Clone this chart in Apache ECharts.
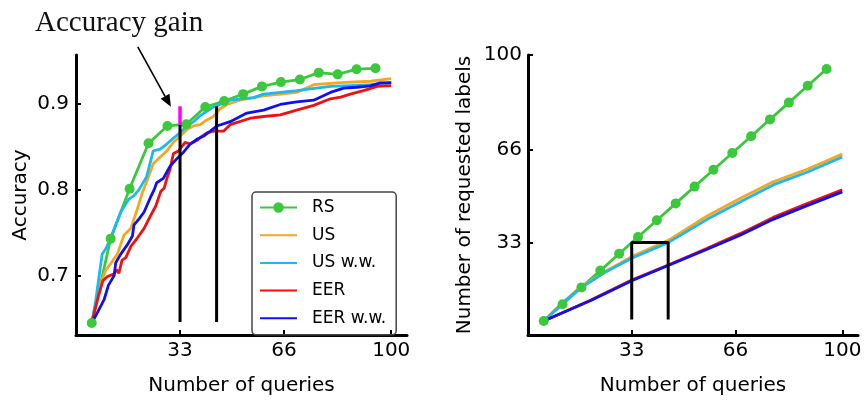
<!DOCTYPE html>
<html>
<head>
<meta charset="utf-8">
<script src="https://cdn.jsdelivr.net/npm/echarts@6/dist/echarts.min.js"></script>
<style>html,body{margin:0;padding:0;background:#fff;}#c{width:865px;height:401px;}</style>
</head>
<body>
<div id="c"></div>
<script>
// ---- data ----
const seriesNames = ['RS', 'US', 'US w.w.', 'EER', 'EER w.w.'];
const xTicks = [33, 66, 100];
const accTicks = [0.7, 0.8, 0.9];
const labelTicks = [33, 66, 100];

// Left: accuracy vs number of queries
const rsQueries = [5, 11, 17, 23, 29, 35, 41, 47, 53, 59, 65, 71, 77, 83, 89, 95];
const rsAcc = [0.645, 0.743, 0.801, 0.854, 0.874, 0.876, 0.896, 0.903, 0.911, 0.920, 0.925, 0.928, 0.936, 0.934, 0.940, 0.941];
const usAcc = [[5,0.645],[7.8,0.691],[9.4,0.706],[11,0.714],[13.1,0.725],[15.2,0.747],[17.4,0.755],[19.5,0.778],[21,0.796],[22.5,0.81],[24.5,0.830],[26.7,0.838],[28.8,0.845],[30.9,0.855],[33,0.862],[35.2,0.870],[37.3,0.874],[39.4,0.8755],[41.5,0.881],[43.6,0.885],[45.7,0.894],[47.9,0.899],[52,0.904],[59.5,0.909],[64.8,0.911],[70,0.913],[75.4,0.922],[84,0.9245],[93.4,0.926],[100,0.929]];
const usWwAcc = [[5,0.645],[6.3,0.672],[8.3,0.725],[9.4,0.731],[11,0.744],[14.2,0.774],[16.8,0.789],[18.4,0.793],[20,0.80],[22.4,0.815],[24.5,0.845],[26.7,0.847],[28.8,0.853],[30.9,0.860],[33,0.866],[35.2,0.874],[37.3,0.879],[39.4,0.886],[41.5,0.891],[43.6,0.896],[45.7,0.899],[48.9,0.904],[56.3,0.907],[59.5,0.911],[70,0.915],[80.7,0.920],[87,0.921],[93.4,0.922],[100,0.924]];
const eerAcc = [[5,0.645],[7.1,0.676],[8.5,0.694],[10,0.699],[12.1,0.702],[12.8,0.707],[13.6,0.703],[14.6,0.718],[15.8,0.721],[17.4,0.734],[19.5,0.744],[21.6,0.755],[23.7,0.770],[25.3,0.781],[26.9,0.798],[28,0.802],[29,0.815],[29.8,0.823],[30.9,0.842],[32.5,0.845],[34.6,0.855],[36.2,0.853],[38.3,0.857],[39.9,0.862],[41.5,0.866],[43.6,0.868],[44.1,0.866],[46.8,0.868],[48.9,0.8755],[55.3,0.883],[59.5,0.885],[64.8,0.887],[70,0.8925],[75.4,0.898],[80.7,0.9056],[84,0.9075],[87,0.911],[91.2,0.915],[95.5,0.920],[100,0.921]];
const eerWwAcc = [[5,0.645],[6.8,0.657],[8.9,0.672],[10.3,0.689],[12.1,0.700],[12.6,0.715],[14.2,0.725],[16.3,0.736],[17.9,0.746],[18.4,0.759],[20,0.766],[21.6,0.774],[23.5,0.790],[24.8,0.800],[25.6,0.808],[27.7,0.813],[29.8,0.827],[32,0.836],[34.1,0.8435],[36.2,0.853],[38.3,0.8585],[40.4,0.862],[42.6,0.868],[44.7,0.874],[48.9,0.879],[54.2,0.889],[59.5,0.8925],[64.8,0.899],[70,0.902],[75.4,0.904],[80.7,0.913],[84.9,0.918],[89.1,0.919],[93.4,0.9207],[96.5,0.924],[100,0.9245]];

// Right: number of requested labels vs number of queries
const rsLabels = [5, 11, 17, 23, 29, 35, 41, 47, 53, 59, 65, 71, 77, 83, 89, 95];
const usLabels = [[5,5],[10,10.5],[16,16.5],[25,23],[33,28],[45,34],[57,42.5],[67,48.5],[78,54.7],[89,59.3],[100,64.6]];
const usWwLabels = [[5,5],[10,10.3],[16,16.2],[25,22.7],[33,27.4],[44.6,33],[57,41.3],[67,47.2],[78,53.6],[89,58.2],[100,63.6]];
const eerLabels = [[5,5],[20,12.5],[33,19.6],[45,25.2],[57,31],[67.5,36.2],[78,42],[89,47],[100,51.9]];
const eerWwLabels = [[5,5],[20,12.3],[33,19.4],[45,25],[57,30.6],[67.5,35.6],[78,41.3],[89,46.3],[100,51.1]];

// Annotations
const gainQueries = [33, 44.6];
const gainAccBase = 0.646;
const gainAccLow = 0.8755;
const gainAccHigh = 0.897;
const labelBase = 5.5;
const labelLevel = 33;
const arrowFrom = [19.6, 0.966];
const arrowTo = [30.1, 0.8963];

// ---- chart ----
const colors = {RS:'#3cc83c', US:'#f5a623', 'US w.w.':'#1cb8f0', EER:'#f01010', 'EER w.w.':'#1010ee'};
const font = 'DejaVu Sans';

function axisX(gi) {
  return {
    gridIndex: gi, type: 'value', min: 0, max: 105,
    name: 'Number of queries', nameLocation: 'middle', nameGap: 41,
    nameTextStyle: {fontSize: 20, color: '#000', fontFamily: font},
    axisLine: {lineStyle: {color: '#000', width: 3}},
    axisTick: {inside: true, length: 5, lineStyle: {color: '#000', width: 2}, customValues: xTicks},
    axisLabel: {customValues: xTicks, fontSize: 20, color: '#000', fontFamily: font, margin: 6},
    splitLine: {show: false}
  };
}

const pairs = (xs, ys) => xs.map((x, i) => [x, ys[i]]);
function lineSeries(name, data, gi, extra) {
  return Object.assign({
    name, type: 'line', xAxisIndex: gi, yAxisIndex: gi, data,
    symbol: 'none', lineStyle: {width: 2.8, color: colors[name]}, itemStyle: {color: colors[name]},
    animation: false, z: 3
  }, extra || {});
}
const rsExtra = {symbol: 'circle', symbolSize: 10, showSymbol: true};

const legendData = seriesNames.map(n => n === 'RS'
  ? {name: n}
  : {name: n, itemStyle: {color: 'rgba(0,0,0,0)', borderWidth: 0}});

const option = {
  backgroundColor: '#fff',
  animation: false,
  title: {
    text: 'Accuracy gain', left: 30, top: 4,
    textStyle: {fontFamily: 'Liberation Serif', fontWeight: 'normal', fontSize: 29, color: '#111'}
  },
  legend: {
    data: legendData, orient: 'vertical', left: 252, top: 192,
    padding: [7, 10, 8, 7], itemWidth: 37, itemHeight: 13, itemGap: 10.7,
    borderColor: '#444', borderWidth: 1.5, borderRadius: 4,
    textStyle: {fontSize: 17, color: '#000', fontFamily: font, lineHeight: 17, padding: [0, 0, 0, 10]}
  },
  grid: [
    {left: 76, top: 55, width: 331, height: 288},
    {left: 528, top: 55, width: 330, height: 290}
  ],
  xAxis: [axisX(0), axisX(1)],
  yAxis: [
    {
      gridIndex: 0, type: 'value', min: 0.631, max: 0.9565,
      name: 'Accuracy', nameLocation: 'middle', nameGap: 45,
      nameTextStyle: {fontSize: 20, color: '#000', fontFamily: font},
      axisLine: {show: true, lineStyle: {color: '#000', width: 3}},
      axisTick: {show: true, inside: true, length: 5, lineStyle: {color: '#000', width: 2}, customValues: accTicks},
      axisLabel: {customValues: accTicks, fontSize: 20, color: '#000', fontFamily: font, margin: 7, formatter: v => v.toFixed(1)},
      splitLine: {show: false}
    },
    {
      gridIndex: 1, type: 'value', min: 0, max: 100,
      name: 'Number of requested labels', nameLocation: 'middle', nameGap: 53,
      nameTextStyle: {fontSize: 20, color: '#000', fontFamily: font},
      axisLine: {show: true, lineStyle: {color: '#000', width: 3}},
      axisTick: {show: true, inside: true, length: 5, lineStyle: {color: '#000', width: 2}, customValues: labelTicks},
      axisLabel: {customValues: labelTicks, fontSize: 20, color: '#000', fontFamily: font, margin: 6},
      splitLine: {show: false}
    }
  ],
  series: [
    lineSeries('RS', pairs(rsQueries, rsAcc), 0, rsExtra),
    lineSeries('US', usAcc, 0),
    lineSeries('US w.w.', usWwAcc, 0),
    lineSeries('EER', eerAcc, 0),
    lineSeries('EER w.w.', eerWwAcc, 0),
    lineSeries('RS', pairs(rsQueries, rsLabels), 1, rsExtra),
    lineSeries('US', usLabels, 1),
    lineSeries('US w.w.', usWwLabels, 1),
    lineSeries('EER', eerLabels, 1),
    lineSeries('EER w.w.', eerWwLabels, 1),
    {type: 'line', xAxisIndex: 0, yAxisIndex: 0, symbol: 'none', z: 5, animation: false, silent: true,
     lineStyle: {color: '#000', width: 3}, data: [[gainQueries[0], gainAccBase], [gainQueries[0], gainAccLow]]},
    {type: 'line', xAxisIndex: 0, yAxisIndex: 0, symbol: 'none', z: 5, animation: false, silent: true,
     lineStyle: {color: '#000', width: 3}, data: [[gainQueries[1], gainAccBase], [gainQueries[1], gainAccHigh]]},
    {type: 'line', xAxisIndex: 0, yAxisIndex: 0, symbol: 'none', z: 6, animation: false, silent: true,
     lineStyle: {color: '#ff00ff', width: 3.5}, data: [[gainQueries[0], gainAccLow], [gainQueries[0], gainAccHigh]]},
    {type: 'line', xAxisIndex: 1, yAxisIndex: 1, symbol: 'none', z: 5, animation: false, silent: true,
     lineStyle: {color: '#000', width: 3},
     data: [[gainQueries[0], labelBase], [gainQueries[0], labelLevel], [gainQueries[1], labelLevel], [gainQueries[1], labelBase]]}
  ]
};

const chart = echarts.init(document.getElementById('c'), null, {renderer: 'canvas'});
chart.setOption(option);

// Annotation arrow, positioned through the axis scales
const p1 = chart.convertToPixel({gridIndex: 0}, arrowFrom);
const p2 = chart.convertToPixel({gridIndex: 0}, arrowTo);
const dx = p2[0] - p1[0], dy = p2[1] - p1[1];
const len = Math.sqrt(dx * dx + dy * dy);
const ux = dx / len, uy = dy / len;
const headLen = 12, headHalf = 5;
const bx = p2[0] - ux * headLen, by = p2[1] - uy * headLen;
chart.setOption({
  graphic: [
    {type: 'line', z: 10, shape: {x1: p1[0], y1: p1[1], x2: bx, y2: by}, style: {stroke: '#000', lineWidth: 1.6}},
    {type: 'polygon', z: 10, shape: {points: [[p2[0], p2[1]], [bx - uy * headHalf, by + ux * headHalf], [bx + uy * headHalf, by - ux * headHalf]]},
     style: {fill: '#000'}}
  ]
});
</script>
</body>
</html>
